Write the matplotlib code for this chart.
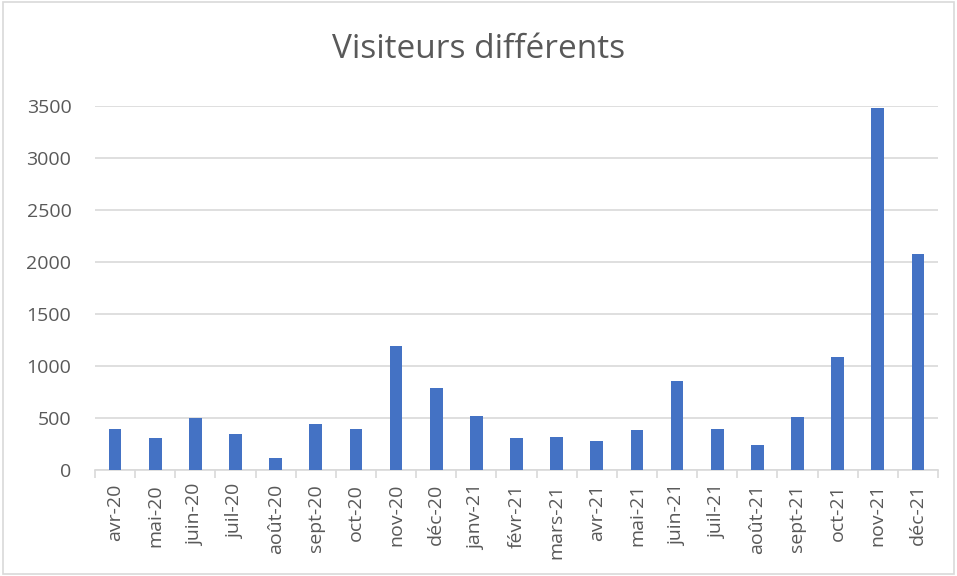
import matplotlib.pyplot as plt
import numpy as np
from matplotlib.patches import Rectangle

# Monthly unique visitors
months = ['avr-20', 'mai-20', 'juin-20', 'juil-20', 'août-20', 'sept-20',
          'oct-20', 'nov-20', 'déc-20', 'janv-21', 'févr-21', 'mars-21',
          'avr-21', 'mai-21', 'juin-21', 'juil-21', 'août-21', 'sept-21',
          'oct-21', 'nov-21', 'déc-21']
visitors = [390, 310, 500, 345, 120, 440, 390, 1195, 790, 515, 305, 315,
            275, 380, 860, 395, 240, 510, 1085, 3480, 2080]

plt.rcParams['font.family'] = ['Open Sans', 'DejaVu Sans']
text_color = '#595959'
grid_color = '#d9d9d9'

fig = plt.figure(figsize=(9.57, 5.76), dpi=100)
ax = fig.add_axes([95 / 957, 1 - 470 / 576, (938 - 95) / 957, (470 - 106) / 576])

x = np.arange(len(months))
ax.bar(x, visitors, width=0.32, color='#4472c4', zorder=3)

# Axes look
ax.set_xlim(-0.5, len(months) - 0.5)
ax.set_ylim(0, 3500)
ax.set_yticks(np.arange(0, 3501, 500))
ax.yaxis.grid(True, color=grid_color, linewidth=1.2, zorder=0)
for side in ['top', 'right', 'left']:
    ax.spines[side].set_visible(False)
ax.spines['bottom'].set_color(grid_color)
ax.spines['bottom'].set_linewidth(1.2)

ax.set_xticks(x)
ax.set_xticklabels(months, rotation=90)
ax.set_xticks(np.arange(-0.5, len(months), 1.0), minor=True)
ax.tick_params(axis='x', which='major', length=0, pad=10,
               labelsize=14, labelcolor=text_color)
ax.tick_params(axis='x', which='minor', length=6, width=1.2, color=grid_color)
ax.tick_params(axis='y', length=0, pad=17, labelsize=14, labelcolor=text_color)

fig.text(0.5, 1 - 49 / 576, 'Visiteurs différents', ha='center', va='center',
         fontsize=24, color=text_color)

# Chart border
fig.patches.append(Rectangle((3 / 957, 2 / 576), 1 - 6 / 957, 1 - 4 / 576,
                             transform=fig.transFigure, fill=False,
                             edgecolor=grid_color, linewidth=1.2))

plt.savefig('out.png', dpi=100)
